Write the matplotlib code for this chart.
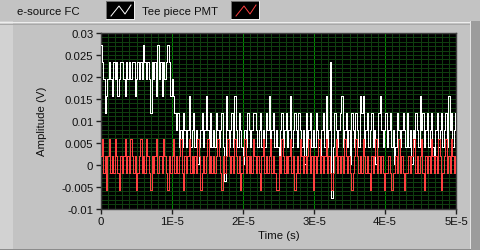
# plot.py
import numpy as np
import matplotlib
matplotlib.use("Agg")
import matplotlib.pyplot as plt
from matplotlib.patches import Rectangle
from matplotlib.lines import Line2D
from matplotlib.ticker import MultipleLocator

# ---- DATA (values in mV) ----
T_END = 5e-5

esource_fc_mv = [
    27.3, 23.4, 19.5, 11.8, 15.7, 19.5, 23.4, 19.5, 15.7, 23.4,
    19.5, 23.4, 15.7, 19.5, 23.4, 23.4, 19.5, 15.7, 23.4, 19.5,
    23.4, 19.5, 23.4, 23.4, 15.7, 19.5, 23.4, 19.5, 23.4, 19.5,
    27.3, 23.4, 19.5, 23.4, 19.5, 11.8, 23.4, 19.5, 23.4, 15.7,
    27.3, 19.5, 23.4, 15.7, 23.4, 19.5, 23.4, 27.3, 23.4, 15.7,
    19.5, 15.7, 11.8, 7.9, 11.8, 4.0, 7.9, 4.0, 11.8, 7.9,
    4.0, 7.9, 15.7, 4.0, 7.9, 11.8, 4.0, 7.9, 0.1, 4.0,
    7.9, 11.8, 4.0, 7.9, 15.7, 7.9, 4.0, 11.8, 4.0, 7.9,
    4.0, 11.8, 7.9, 4.0, 7.9, 11.8, 4.0, -3.8, 15.7, 7.9,
    4.0, 7.9, 11.8, 4.0, 15.7, 7.9, 4.0, 11.8, 7.9, 4.0,
    0.1, 7.9, 4.0, 11.8, 7.9, 4.0, 7.9, 11.8, 11.8, 7.9,
    4.0, 7.9, 11.8, 4.0, 7.9, 4.0, 11.8, 7.9, 15.7, 4.0,
    7.9, 11.8, 4.0, 7.9, 4.0, 0.1, 7.9, 11.8, 4.0, 7.9,
    11.8, 4.0, 7.9, 15.7, 4.0, 7.9, 11.8, 7.9, 4.0, 11.8,
    7.9, 4.0, 7.9, 0.1, 11.8, 4.0, 7.9, 11.8, 4.0, 7.9,
    4.0, 11.8, 7.9, 4.0, 0.1, 7.9, 11.8, 4.0, 15.7, 4.0,
    7.9, 23.4, -7.7, 4.0, 11.8, 7.9, 4.0, 7.9, 11.8, 15.7,
    4.0, 7.9, 11.8, 4.0, 7.9, 0.1, 11.8, 7.9, 4.0, 11.8,
    7.9, 4.0, 15.7, 11.8, 15.7, 4.0, 7.9, 11.8, 4.0, 7.9,
    11.8, 4.0, 7.9, 0.1, 4.0, 11.8, 15.7, 7.9, 4.0, 7.9,
    11.8, 4.0, 7.9, 11.8, 4.0, 7.9, 0.1, 4.0, 11.8, 7.9,
    4.0, 7.9, 11.8, 7.9, 4.0, 11.8, 4.0, 7.9, 0.1, 7.9,
    4.0, 11.8, 7.9, 4.0, 15.7, 7.9, 11.8, 4.0, 7.9, 11.8,
    4.0, 7.9, 11.8, 4.0, 0.1, 7.9, 11.8, 4.0, 7.9, 11.8,
    4.0, 7.9, 11.8, 4.0, 15.7, 7.9, 11.8, 4.0, 7.9, 11.8,
]

tee_pmt_mv = [
    2.0, 5.9, -1.9, 2.0, -5.8, 2.0, 5.9, -1.9, 2.0, -1.9,
    5.9, 2.0, -1.9, -5.8, 2.0, -1.9, 2.0, 5.9, -1.9, 2.0,
    -1.9, 5.9, 2.0, -1.9, 2.0, -5.8, -1.9, 2.0, 5.9, -1.9,
    2.0, -1.9, 5.9, 2.0, -1.9, -5.8, 2.0, -1.9, 2.0, 5.9,
    -1.9, 2.0, 2.0, -1.9, 5.9, 2.0, -1.9, -5.8, 2.0, -1.9,
    2.0, 5.9, -1.9, 2.0, -1.9, 2.0, 5.9, -1.9, -5.8, 2.0,
    -1.9, 2.0, 5.9, -1.9, 2.0, -1.9, 2.0, -1.9, 5.9, 2.0,
    -5.8, -1.9, 2.0, -1.9, 2.0, 5.9, -1.9, 2.0, -1.9, 2.0,
    -1.9, 2.0, 5.9, 2.0, -1.9, -5.8, 2.0, -1.9, 2.0, 5.9,
    2.0, -1.9, 2.0, -1.9, 5.9, 2.0, -1.9, 2.0, -5.8, -1.9,
    2.0, 5.9, -1.9, 2.0, -1.9, 2.0, -1.9, 5.9, 2.0, -1.9,
    2.0, -1.9, -5.8, 2.0, 5.9, -1.9, 2.0, -1.9, 2.0, 5.9,
    -1.9, 2.0, -1.9, -5.8, -5.8, 2.0, -1.9, 5.9, 2.0, -1.9,
    2.0, -1.9, 2.0, 5.9, -1.9, 2.0, -5.8, -1.9, 2.0, -1.9,
    5.9, 2.0, -1.9, 2.0, -1.9, 2.0, 5.9, -1.9, 2.0, -5.8,
    2.0, -1.9, 2.0, 5.9, -1.9, 2.0, -1.9, 2.0, 5.9, -1.9,
    2.0, -1.9, -5.8, -1.9, 2.0, 5.9, -1.9, 2.0, -1.9, 2.0,
    -1.9, 5.9, 2.0, -1.9, 2.0, -1.9, -5.8, -1.9, 2.0, 5.9,
    2.0, -1.9, 2.0, -1.9, 5.9, 2.0, -1.9, 2.0, -1.9, -5.8,
    2.0, -1.9, 2.0, 5.9, -1.9, 2.0, -1.9, 2.0, -1.9, -5.8,
    -1.9, -1.9, 2.0, -1.9, -5.8, -1.9, -1.9, 2.0, -1.9, 5.9,
    -1.9, 2.0, -1.9, -5.8, -1.9, -1.9, 2.0, -1.9, 2.0, 5.9,
    5.9, -1.9, 2.0, -1.9, 2.0, 5.9, -1.9, -5.8, 2.0, -1.9,
    2.0, -1.9, 5.9, 2.0, -1.9, 2.0, -1.9, 5.9, 2.0, -5.8,
    -1.9, 2.0, 5.9, -1.9, 2.0, -1.9, 5.9, 2.0, -1.9, 2.0,
]

series_names = ["e-source FC", "Tee piece PMT"]
series_colors = ["#ffffff", "#ff4040"]

x_ticks = [0, 1e-5, 2e-5, 3e-5, 4e-5, 5e-5]
x_tick_labels = ["0", "1E-5", "2E-5", "3E-5", "4E-5", "5E-5"]
y_ticks = [-0.01, -0.005, 0, 0.005, 0.01, 0.015, 0.02, 0.025, 0.03]
y_tick_labels = ["-0.01", "-0.005", "0", "0.005", "0.01", "0.015",
                 "0.02", "0.025", "0.03"]

W, H = 481, 251
BG = "#c3c3c3"
FONT = "Liberation Sans"
FS = 8.2
PX = 0.72  # one pixel in points at dpi 100


# ----------------------------------------------------------
def px_rect(fig, x, y, w, h, color, z=0):
    """rectangle given in pixels, y measured from the top"""
    r = Rectangle((x / W, 1 - (y + h) / H), w / W, h / H,
                  transform=fig.transFigure, facecolor=color,
                  edgecolor="none", zorder=z)
    fig.add_artist(r)


def px_line(fig, xs, ys, color, lw=PX, z=1, aa=False):
    ln = Line2D([x / W for x in xs], [1 - y / H for y in ys],
                transform=fig.transFigure, color=color, lw=lw,
                zorder=z, antialiased=aa)
    fig.add_artist(ln)


def legend_box(fig, x, color):
    # black swatch with a small bevel and a zigzag trace
    px_rect(fig, x - 1, 2, 29, 19, "#eeeeee", z=2)
    px_rect(fig, x - 1, 2, 28, 18, "#707070", z=2)
    px_rect(fig, x, 3, 27, 17, "#000000", z=3)
    px_line(fig, [x + 4, x + 12, x + 18, x + 24],
            [17, 7, 15, 6], color, lw=0.7, z=4, aa=True)


# ----------------------------------------------------------
def main():
    plt.rcParams["font.family"] = FONT
    plt.rcParams["axes.unicode_minus"] = False

    fig = plt.figure(figsize=(W / 100, H / 100), dpi=100, facecolor=BG)

    # ---- panel frame ----
    px_rect(fig, 0, 22, 13, 229, "#d2d2d2")
    px_line(fig, [0, 470], [22.5, 22.5], "#eeeeee")
    px_line(fig, [0, 470], [24.5, 24.5], "#a8a8a8")
    px_rect(fig, 470, 22, 11, 229, "#9c9c9c")
    px_line(fig, [470.5, 470.5], [22, 251], "#e4e4e4")
    px_line(fig, [0, 470], [249.5, 249.5], "#8c8c8c")

    # ---- legend row ----
    fig.text(17 / W, 1 - 12 / H, series_names[0], fontsize=FS,
             va="center", ha="left", color="#101010")
    legend_box(fig, 107, series_colors[0])
    fig.text(142 / W, 1 - 12 / H, series_names[1], fontsize=FS,
             va="center", ha="left", color="#101010")
    legend_box(fig, 232, series_colors[1])

    # ---- plot area ----
    left, right, top, bottom = 101, 456, 34, 209.5
    ax = fig.add_axes([left / W, 1 - bottom / H,
                       (right - left) / W, (bottom - top) / H])
    ax.set_facecolor("#000000")

    t = np.linspace(0, T_END, len(esource_fc_mv))
    v_fc = np.array(esource_fc_mv) / 1000.0
    v_pmt = np.array(tee_pmt_mv) / 1000.0

    ax.plot(t, v_fc, color=series_colors[0], lw=PX, antialiased=False,
            drawstyle="steps-mid", zorder=3)
    ax.plot(t, v_pmt, color=series_colors[1], lw=PX, antialiased=False,
            drawstyle="steps-mid", zorder=4)

    ax.set_xlim(0, T_END)
    ax.set_ylim(-0.01, 0.03)
    ax.set_xticks(x_ticks)
    ax.set_xticklabels(x_tick_labels)
    ax.set_yticks(y_ticks)
    ax.set_yticklabels(y_tick_labels)
    ax.xaxis.set_minor_locator(MultipleLocator(1e-6))
    ax.yaxis.set_minor_locator(MultipleLocator(0.001))

    ax.set_axisbelow(True)
    ax.grid(which="minor", color="#0f3e0f", lw=PX, antialiased=False)
    ax.xaxis.grid(which="major", color="#008c00", lw=PX, antialiased=False)
    ax.yaxis.grid(which="major", color="#0f3e0f", lw=PX, antialiased=False)

    ax.tick_params(which="major", direction="out", length=3.5, width=1,
                   color="#202020", labelsize=FS, labelcolor="#101010",
                   pad=2)
    ax.tick_params(which="minor", length=0)
    for s in ax.spines.values():
        s.set_color("#404040")
        s.set_linewidth(1)

    ax.set_xlabel("Time (s)", fontsize=FS, color="#101010", labelpad=3)
    ax.set_ylabel("Amplitude (V)", fontsize=FS, color="#101010",
                  labelpad=10)

    fig.savefig("out.png", dpi=100, facecolor=BG)


# ----------------------------------------------------------
if __name__ == "__main__":
    main()
